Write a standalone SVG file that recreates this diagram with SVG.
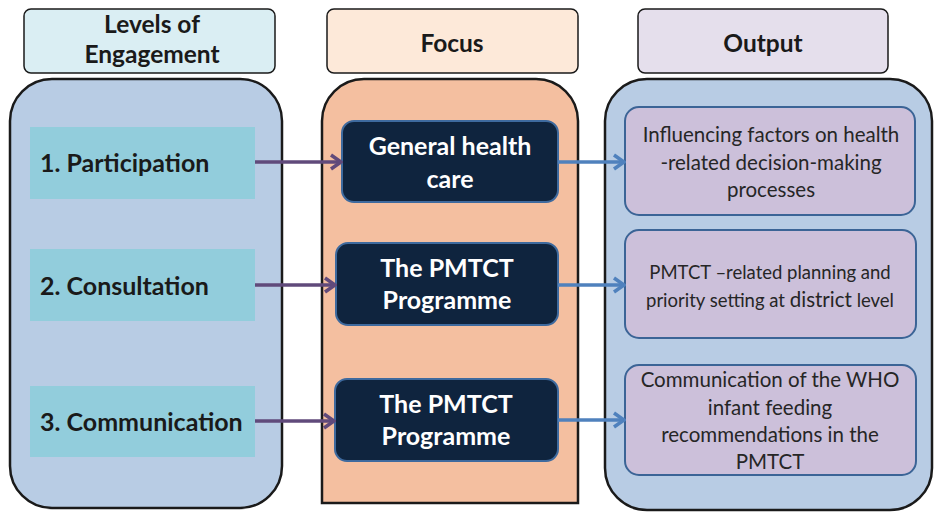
<svg xmlns="http://www.w3.org/2000/svg" width="935" height="514" viewBox="0 0 935 514">
<defs>
<marker id="ap" markerWidth="14" markerHeight="18" refX="12" refY="9" orient="auto" markerUnits="userSpaceOnUse">
<path d="M2,2 L12,9 L2,16" fill="none" stroke="#604A7B" stroke-width="3.5"/>
</marker>
<marker id="ab" markerWidth="14" markerHeight="18" refX="12" refY="9" orient="auto" markerUnits="userSpaceOnUse">
<path d="M2,2 L12,9 L2,16" fill="none" stroke="#4F81BD" stroke-width="3.5"/>
</marker>
</defs>
<style>
text{font-family:Lato,"Liberation Sans",Arial,sans-serif;text-anchor:middle}
.h{font-size:24.5px;font-weight:bold;fill:#1a1a1a}
.hdr{stroke:#1a1a1a;stroke-width:1.5}
.cont{stroke:#1a1a1a;stroke-width:2.5}
.lv{fill:#92CDDC}
.lt{font-size:25px;font-weight:bold;fill:#1a1a1a;text-anchor:start}
.fb{fill:#0F243E;stroke:#3E6A9E;stroke-width:2}
.ft{font-size:25px;font-weight:bold;fill:#ffffff}
.ob{fill:#CCC0DA;stroke:#3B6496;stroke-width:2}
.ot{font-size:20.5px;fill:#262626}
.pa{stroke:#604A7B;stroke-width:3.5;fill:none;marker-end:url(#ap)}
.ba{stroke:#4F81BD;stroke-width:3.5;fill:none;marker-end:url(#ab)}
</style>
<g id="hdr-levels"><rect class="hdr" x="24" y="9" width="251" height="64" rx="7" fill="#DAEEF3"/><text class="h" x="152" y="33">Levels of</text><text class="h" x="152" y="63">Engagement</text></g>
<g id="hdr-focus"><rect class="hdr" x="327" y="9" width="251" height="64" rx="7" fill="#FDE9D9"/><text class="h" x="452" y="52">Focus</text></g>
<g id="hdr-output"><rect class="hdr" x="638" y="9" width="250" height="64" rx="7" fill="#E5DFEC"/><text class="h" x="763" y="52">Output</text></g>
<g id="cont-levels"><rect class="cont" x="10" y="79" width="272" height="429" rx="42" fill="#B8CCE4"/></g>
<g id="cont-focus"><path class="cont" d="M322,503 L322,121 A42,42 0 0 1 364,79 L536,79 A42,42 0 0 1 578,121 L578,503 Z" fill="#F4BFA0"/></g>
<g id="cont-output"><rect class="cont" x="605" y="79" width="327" height="431" rx="42" fill="#B8CCE4"/></g>
<g id="lvl1"><rect class="lv" x="30" y="127" width="225" height="72"/><text class="lt" x="40" y="172">1. Participation</text></g>
<g id="lvl2"><rect class="lv" x="30" y="249" width="225" height="72"/><text class="lt" x="40" y="295">2. Consultation</text></g>
<g id="lvl3"><rect class="lv" x="30" y="386" width="225" height="71"/><text class="lt" x="40" y="431">3. Communication</text></g>
<g id="focus1"><rect class="fb" x="342" y="121" width="216" height="81" rx="12"/><text class="ft" x="450" y="155">General health</text><text class="ft" x="450" y="188">care</text></g>
<g id="focus2"><rect class="fb" x="336" y="243" width="222" height="82" rx="12"/><text class="ft" x="447" y="277">The PMTCT</text><text class="ft" x="447" y="309">Programme</text></g>
<g id="focus3"><rect class="fb" x="335" y="379" width="223" height="82" rx="12"/><text class="ft" x="446" y="413">The PMTCT</text><text class="ft" x="446" y="445">Programme</text></g>
<g id="out1"><rect class="ob" x="625" y="107" width="290" height="108" rx="14"/><text class="ot" x="771" y="142">Influencing factors on health</text><text class="ot" x="771" y="170">-related decision-making</text><text class="ot" x="771" y="197">processes</text></g>
<g id="out2"><rect class="ob" x="625" y="230" width="291" height="108" rx="14"/><text class="ot" x="770" y="279" style="font-size:18.5px">PMTCT –related planning and</text><text class="ot" x="770" y="307" style="font-size:18.5px">priority setting at <tspan style="font-size:20.5px">district</tspan> level</text></g>
<g id="out3"><rect class="ob" x="625" y="365" width="291" height="110" rx="14"/><text class="ot" x="770" y="387">Communication of the WHO</text><text class="ot" x="770" y="415">infant feeding</text><text class="ot" x="770" y="442">recommendations in the</text><text class="ot" x="770" y="469">PMTCT</text></g>
<g id="connectors">
<line class="pa" x1="255" y1="162" x2="341" y2="162"/>
<line class="pa" x1="255" y1="285" x2="335" y2="285"/>
<line class="pa" x1="255" y1="421" x2="334" y2="421"/>
<line class="ba" x1="558" y1="162" x2="624" y2="162"/>
<line class="ba" x1="558" y1="285" x2="624" y2="285"/>
<line class="ba" x1="558" y1="420" x2="624" y2="420"/>
</g>
</svg>
